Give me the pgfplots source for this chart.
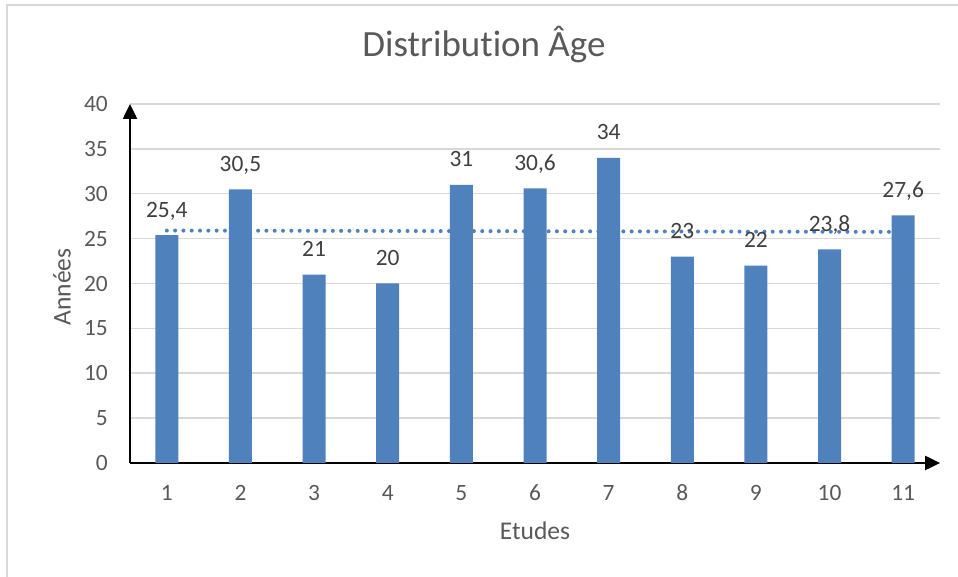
\documentclass[border=0pt]{standalone}
\usepackage{pgfplots}
\pgfplotsset{compat=1.18}
\usepackage{fontspec}
\setmainfont{Carlito}[Ligatures={NoCommon}]
\usetikzlibrary{arrows.meta}
\definecolor{barblue}{HTML}{4F81BD}
\definecolor{txtgray}{HTML}{595959}
\definecolor{lblgray}{HTML}{404040}
\definecolor{gridgray}{HTML}{D9D9D9}
\begin{document}
\begin{tikzpicture}
\useasboundingbox (0pt,0pt) rectangle (958pt,577pt);
\draw[gridgray, line width=1.5pt] (7pt,0pt) -- (7pt,572pt) -- (958pt,572pt);
\node[txtgray, font=\fontsize{37}{40}\selectfont, anchor=base] at (484pt,520.3pt) {Distribut\kern0pt ion Âge};
\begin{axis}[
  at={(130pt,114pt)}, anchor=south west,
  scale only axis, width=810pt, height=359pt,
  xmin=0.5, xmax=11.5, ymin=0, ymax=40,
  axis lines=left,
  axis line style={black, line width=2.5pt, -{Triangle[length=15pt,width=14pt]}},
  ymajorgrids, grid style={gridgray, line width=1.5pt},
  xtick={1,...,11}, ytick={0,5,...,40},
  major tick length=7pt, tick align=inside,
  xtick style={black, line width=1.5pt},
  ytick style={draw=none},
  /pgf/number format/assume math mode=true,
  /pgf/number format/use comma,
  tick label style={txtgray, font=\fontsize{23.4}{26}\selectfont, inner sep=0pt, text depth=0pt},
  xticklabel style={anchor=base, yshift=-37.7pt},
  yticklabel style={anchor=east, xshift=-22pt},
  xlabel={Etudes}, ylabel={Années},
  label style={txtgray, font=\fontsize{25.5}{30}\selectfont},
  xlabel style={at={(axis description cs:0.5,-0.2145)}, anchor=base},
  ylabel style={at={(axis description cs:-0.084,0.49)}, anchor=center, rotate=0},
]
\addplot[ybar, bar width=23pt, fill=barblue, draw=none,
  nodes near coords,
  nodes near coords style={lblgray, font=\fontsize{23.4}{26}\selectfont, anchor=base, inner sep=0pt, yshift=18pt}]
  coordinates {(1,25.4) (2,30.5) (3,21) (4,20) (5,31) (6,30.6) (7,34) (8,23) (9,22) (10,23.8) (11,27.6)};
\addplot[sharp plot, barblue, line width=4pt, dash pattern=on 0pt off 8.3pt, line cap=round, mark=none]
  coordinates {(1,25.9) (10.85,25.75)};
\end{axis}
\end{tikzpicture}
\end{document}
